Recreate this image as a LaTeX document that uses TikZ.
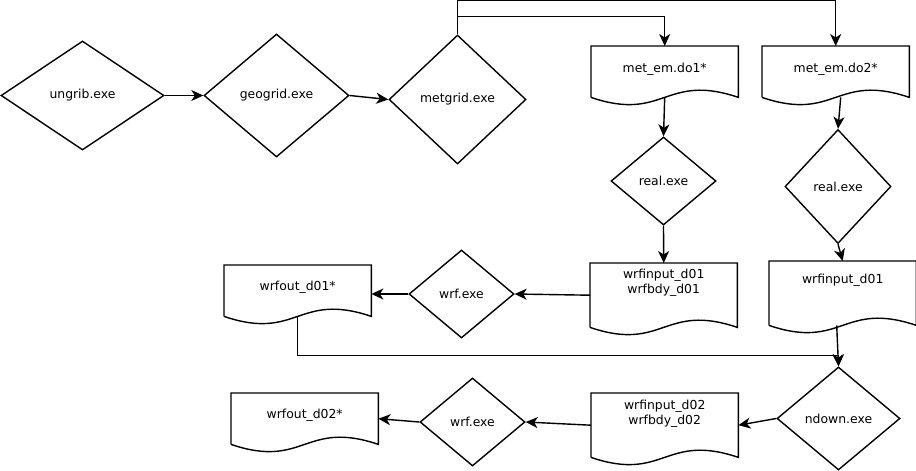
\documentclass[tikz,border=0pt]{standalone}
\usepackage{fontspec}
\setmainfont{DejaVu Sans}
\usetikzlibrary{shapes.geometric,arrows.meta,calc}
\tikzset{
 proc/.style={diamond, draw, line width=1.4pt, inner sep=0pt, aspect=1},
 doc/.style={inner sep=0pt, anchor=north west},
 docline/.style={line width=1.4pt, line join=miter},
 arr/.style={line width=1.4pt, -{Stealth[length=12pt,width=11pt,inset=3.5pt]}},
}
\newcommand\doctxt[3]{\parbox[t][#1pt][t]{147pt}{\centering\rule{0pt}{#2pt}#3}}
\begin{document}
\begin{tikzpicture}[x=1pt,y=-1pt, every node/.style={font=\fontsize{12.4}{15}\selectfont}]
\useasboundingbox (0,0) rectangle (916,471);
% process diamonds
\node[proc, minimum width=163pt, minimum height=109pt] (ungrib) at (82.5,95.5) {ungrib.exe};
\node[proc, minimum width=145pt, minimum height=123pt] (geogrid) at (276.5,95.5) {geogrid.exe};
\node[proc, minimum width=137pt, minimum height=129pt] (metgrid) at (457.5,99.5) {metgrid.exe};
\node[proc, minimum width=105pt, minimum height=88pt] (real1) at (663.5,181) {real.exe};
\node[proc, minimum width=106pt, minimum height=114pt] (real2) at (838,186.5) {real.exe};
\node[proc, minimum width=105pt, minimum height=88pt] (wrf1) at (461.5,294) {wrf.exe};
\node[proc, minimum width=123pt, minimum height=103pt] (ndown) at (838.5,418.5) {ndown.exe};
\node[proc, minimum width=105pt, minimum height=88pt] (wrf2) at (472.5,422) {wrf.exe};
% documents
\node[doc] (m1) at (591,46) {\doctxt{51}{26}{met\_em.do1*}};
\node[doc] (m2) at (762,46) {\doctxt{51}{26}{met\_em.do2*}};
\node[doc] (wi1) at (590,263) {\doctxt{64}{15}{wrfinput\_d01\\wrfbdy\_d01}};
\node[doc] (wi2) at (769,261) {\doctxt{64}{22}{wrfinput\_d01}};
\node[doc] (wo1) at (224,265) {\doctxt{51}{25}{wrfout\_d01*}};
\node[doc] (wi3) at (591,393) {\doctxt{64}{16}{wrfinput\_d02\\wrfbdy\_d02}};
\node[doc] (wo2) at (231,393) {\doctxt{51}{25}{wrfout\_d02*}};
\foreach \n in {m1,m2,wi1,wi2,wo1,wi3,wo2}
  \draw[docline] (\n.south west) -- (\n.north west) -- (\n.north east) -- (\n.south east)
    .. controls ($(\n.south)+(0,-25)$) and ($(\n.south)+(0,25)$) .. (\n.south west);
% connectors
\draw[arr] (ungrib.east) -- (geogrid.west);
\draw[arr] (geogrid.east) -- (metgrid.west);
\draw[arr] (metgrid.north) -- ++(0,-18) -| (m1.north);
\draw[arr] (metgrid.north) -- ++(0,-34) -| (m2.north);
\draw[arr] (m1.south) -- (real1.north);
\draw[arr] ([xshift=5pt]m2.south) -- (real2.north);
\draw[arr] (real1.south) -- (wi1.north);
\draw[arr] (real2.south) -- (wi2.north);
\draw[arr] (wi1.west) -- (wrf1.east);
\draw[arr] (wrf1.west) -- (wrf1.west -| wo1.east);
\draw[arr] (wo1.south) |- ([yshift=11pt]ndown.north) -- (ndown.north);
\draw[arr] ([xshift=-6pt]wi2.south) -- (ndown.north);
\draw[arr] (ndown.west) -- (wi3.east);
\draw[arr] (wi3.west) -- (wrf2.east);
\draw[arr] (wrf2.west) -- (wo2.east);
\end{tikzpicture}
\end{document}
